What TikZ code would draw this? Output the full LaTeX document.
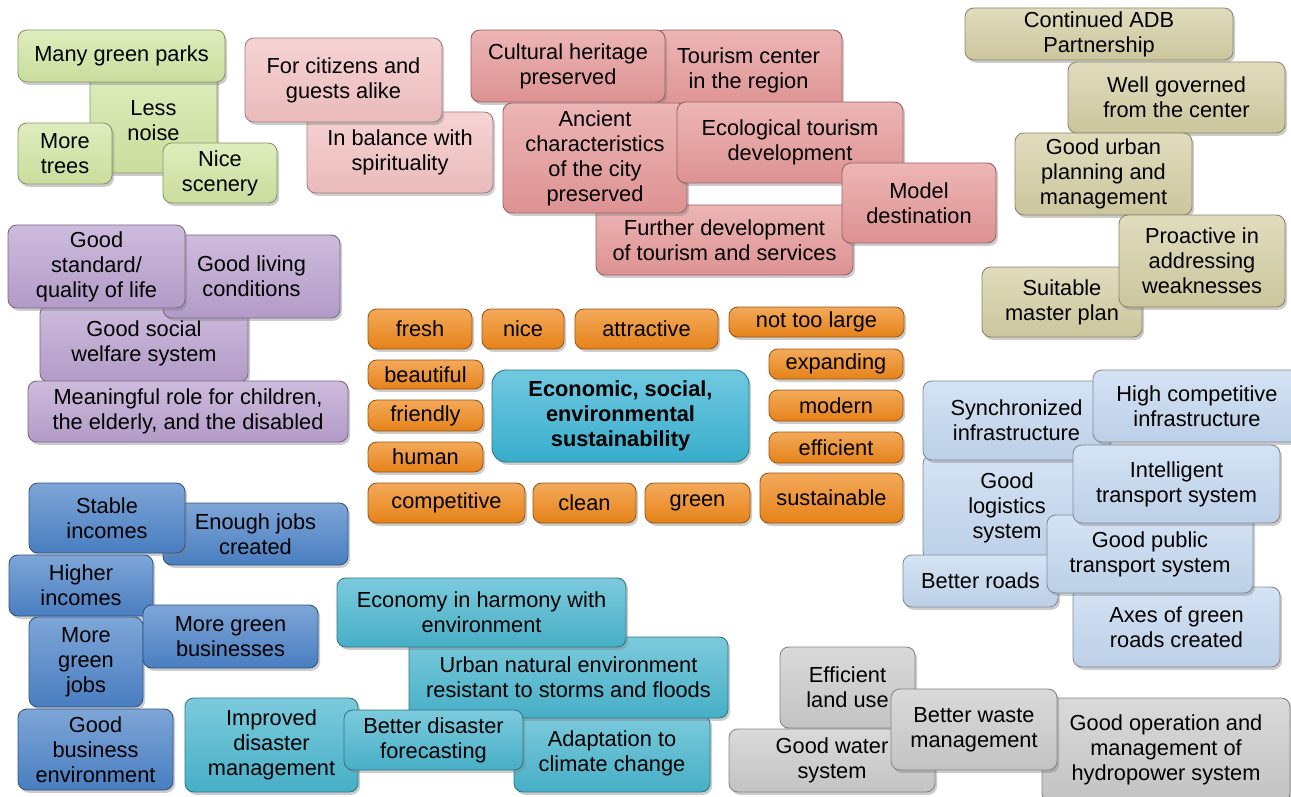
\documentclass[tikz,border=0pt]{standalone}
\usepackage{fontspec}
\setmainfont{Liberation Sans}
\usetikzlibrary{shadows}

\definecolor{parkgreen}{HTML}{D2E6A3}
\definecolor{softpink}{HTML}{F3C2C2}
\definecolor{tourpink}{HTML}{E69898}
\definecolor{khaki}{HTML}{D4CEA3}
\definecolor{lilac}{HTML}{BAA1CF}
\definecolor{amber}{HTML}{EF881A}
\definecolor{coreteal}{HTML}{3AB4D4}
\definecolor{paleblue}{HTML}{C4D8F0}
\definecolor{jobblue}{HTML}{4C83C8}
\definecolor{seateal}{HTML}{49B6CE}
\definecolor{stone}{HTML}{CBCBCB}

\tikzset{
	tile/.style={rounded corners=5pt, draw=#1!65!black, line width=0.5pt,
		top color=#1!72!white, bottom color=#1!96!black,
		drop shadow={shadow xshift=1.2pt, shadow yshift=-1.6pt, opacity=0.4},
		align=center, inner sep=0pt, text=black,
		font=\fontsize{12.4}{14.2}\selectfont},
	boxsize/.style 2 args={minimum width=#1*0.02cm, minimum height=#2*0.02cm}
}

\begin{document}
\begin{tikzpicture}[x=0.02cm, y=-0.02cm]
	\useasboundingbox (0,0) rectangle (1291,797);

	% nature
	\begin{scope}[every node/.style={tile=parkgreen}]
		\node[boxsize={127}{105}] (noise) at (153.5,120.5) {Less\\noise};
		\node[boxsize={207}{52}] (parks) at (121.5,56) {Many green parks};
		\node[boxsize={94}{61}] (trees) at (65,153.5) {More\\trees};
		\node[boxsize={114}{60}] (scenery) at (220,173) {Nice\\scenery};
	\end{scope}

	% people
	\begin{scope}[every node/.style={tile=softpink}]
		\node[boxsize={186}{81}] (balance) at (400,152.5) {In balance with\\spirituality};
		\node[boxsize={197}{84}] (guests) at (343.5,80) {For citizens and\\guests alike};
	\end{scope}

	% tourism
	\begin{scope}[every node/.style={tile=tourpink}]
		\node[boxsize={187}{80}] (center) at (748.5,70) {Tourism center\\in the region};
		\node[boxsize={194}{72}] (heritage) at (568,66) {Cultural heritage\\preserved};
		\node[boxsize={257}{70}] (further) at (724.5,240) {Further development\\of tourism and services};
		\node[boxsize={184}{110}] (ancient) at (595,158) {Ancient\\characteristics\\of the city\\preserved};
		\node[boxsize={226}{81}] (eco) at (790,142.5) {Ecological tourism\\development};
		\node[boxsize={154}{80}] (model) at (919,203) {Model\\destination};
	\end{scope}

	% governance
	\begin{scope}[every node/.style={tile=khaki}]
		\node[boxsize={268}{52}] (adb) at (1099,34) {Continued ADB\\Partnership};
		\node[boxsize={217}{71}] (governed) at (1176.5,97.5) {Well governed\\from the center};
		\node[boxsize={177}{82}] (planning) at (1103.5,174) {Good urban\\planning and\\management};
		\node[boxsize={160}{70}] (master) at (1062,302) {Suitable\\master plan};
		\node[boxsize={166}{92}] (proactive) at (1202,261) {Proactive in\\addressing\\weaknesses};
	\end{scope}

	% social
	\begin{scope}[every node/.style={tile=lilac}]
		\node[boxsize={208}{77}] (welfare) at (144,343.5) {Good social\\welfare system};
		\node[boxsize={177}{83}] (living) at (251.5,276.5) {Good living\\conditions};
		\node[boxsize={177}{83}] (standard) at (96.5,266.5) {Good\\standard/\\quality of life};
		\node[boxsize={320}{61}] (role) at (188,411.5) {Meaningful role for children,\\the elderly, and the disabled};
	\end{scope}

	% attributes
	\begin{scope}[every node/.style={tile=amber}]
		\node[boxsize={104}{40}] (fresh) at (420,329) {fresh};
		\node[boxsize={82}{40}] (nice) at (523,329) {nice};
		\node[boxsize={143}{40}] (attractive) at (646.5,329) {attractive};
		\node[boxsize={175}{30}] (large) at (816.5,322) {not too large};
		\node[boxsize={115}{29}] (beautiful) at (425.5,374.5) {beautiful};
		\node[boxsize={115}{31}] (friendly) at (425.5,415.5) {friendly};
		\node[boxsize={115}{30}] (human) at (425.5,457) {human};
		\node[boxsize={134}{30}] (expanding) at (836,364) {expanding};
		\node[boxsize={134}{31}] (modern) at (836,405.5) {modern};
		\node[boxsize={134}{31}] (efficient) at (836,447.5) {efficient};
		\node[boxsize={157}{40}] (competitive) at (446.5,503) {competitive};
		\node[boxsize={103}{40}] (clean) at (584.5,503) {clean};
		\node[boxsize={105}{40}] (greenish) at (697.5,503) {green};
		\node[boxsize={143}{50}] (sustainable) at (831.5,498) {sustainable};
	\end{scope}

	\node[tile=coreteal, boxsize={257}{92}, rounded corners=8pt,
		font=\fontsize{12.4}{14.2}\selectfont\bfseries] (goal) at (620.5,416)
		{Economic, social,\\environmental\\sustainability};

	% infrastructure
	\begin{scope}[every node/.style={tile=paleblue}]
		\node[boxsize={168}{105}] (logistics) at (1007,507.5) {Good\\logistics\\system};
		\node[boxsize={187}{79}] (synchro) at (1016.5,420.5) {Synchronized\\infrastructure};
		\node[boxsize={208}{72}] (highcomp) at (1197,406) {High competitive\\infrastructure};
		\node[boxsize={155}{52}] (roads) at (980.5,581) {Better roads};
		\node[boxsize={207}{80}] (axes) at (1176.5,627) {Axes of green\\roads created};
		\node[boxsize={206}{78}] (public) at (1150,554) {Good public\\transport system};
		\node[boxsize={207}{78}] (intelligent) at (1176.5,484) {Intelligent\\transport system};
	\end{scope}

	% economy
	\begin{scope}[every node/.style={tile=jobblue}]
		\node[boxsize={185}{62}] (enough) at (255.5,534) {Enough jobs\\created};
		\node[boxsize={156}{70}] (stable) at (107,518) {Stable\\incomes};
		\node[boxsize={144}{61}] (higher) at (81,585.5) {Higher\\incomes};
		\node[boxsize={114}{90}] (jobs) at (86,662) {More\\green\\jobs};
		\node[boxsize={175}{63}] (business) at (230.5,636.5) {More green\\businesses};
		\node[boxsize={155}{81}] (climate) at (95.5,749.5) {Good\\business\\environment};
	\end{scope}

	% environment
	\begin{scope}[every node/.style={tile=seateal}]
		\node[boxsize={196}{77}] (adapt) at (612,753.5) {Adaptation to\\climate change};
		\node[boxsize={319}{81}] (resist) at (568.5,677.5) {Urban natural environment\\resistant to storms and floods};
		\node[boxsize={289}{69}] (harmony) at (481.5,612.5) {Economy in harmony with\\environment};
		\node[boxsize={173}{94}] (disaster) at (271.5,745) {Improved\\disaster\\management};
		\node[boxsize={179}{60}] (forecast) at (433.5,740) {Better disaster\\forecasting};
	\end{scope}

	% utilities
	\begin{scope}[every node/.style={tile=stone}]
		\node[boxsize={135}{81}] (land) at (847.5,687.5) {Efficient\\land use};
		\node[boxsize={206}{63}] (water) at (832,760.5) {Good water\\system};
		\node[boxsize={248}{104}] (hydro) at (1166,750) {Good operation and\\management of\\hydropower system};
		\node[boxsize={166}{81}] (waste) at (974,729.5) {Better waste\\management};
	\end{scope}
\end{tikzpicture}
\end{document}
